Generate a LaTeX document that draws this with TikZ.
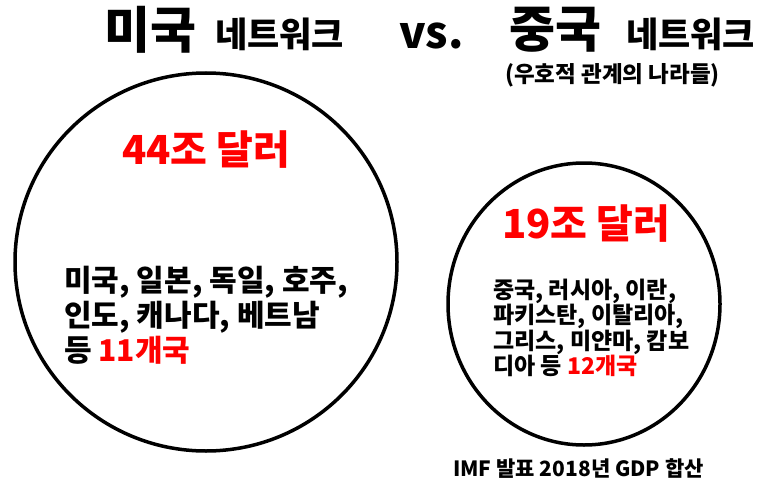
\documentclass[tikz,border=0pt]{standalone}
\usepackage{fontspec}
\setmainfont{Noto Sans CJK KR}
\definecolor{myred}{RGB}{255,0,0}
\tikzset{
  ring/.style={draw=black, line width=3.5pt},
  txt/.style={inner sep=0pt, text=black},
}
\begin{document}
\begin{tikzpicture}[x=1pt,y=-1pt]
\useasboundingbox[fill=white] (0,0) rectangle (760,484);
% circles
\draw[ring] (206,262) ellipse [x radius=191, y radius=189];
\draw[ring] (584,304) ellipse [x radius=136, y radius=141];
% titles
\node[txt, anchor=west, font=\fontsize{50}{54}\selectfont\bfseries] (t1) at (104,30) {미국};
\node[txt, anchor=west, font=\fontsize{35}{38}\selectfont\bfseries] (t2) at (215,34) {네트워크};
\node[txt, anchor=west, font=\fontsize{44}{48}\selectfont\bfseries] (vs) at (399,36) {vs.};
\node[txt, anchor=west, font=\fontsize{50}{54}\selectfont\bfseries] (t3) at (509,30) {중국};
\node[txt, anchor=west, font=\fontsize{35}{38}\selectfont\bfseries] (t4) at (626,34) {네트워크};
\node[txt, anchor=west, font=\fontsize{22.5}{26}\selectfont\bfseries] (sub) at (505,75) {(우호적 관계의 나라들)};
% big circle
\node[txt, text=myred, anchor=west, font=\fontsize{40}{44}\selectfont\bfseries] (usd) at (122,150) {44조 달러};
\node[txt, anchor=west, align=left, font=\fontsize{30}{35}\selectfont\bfseries] (usl) at (64,315)
  {미국, 일본, 독일, 호주,\\인도, 캐나다, 베트남\\등 {\color{myred}11개국}};
% small circle
\node[txt, text=myred, anchor=west, font=\fontsize{40}{44}\selectfont\bfseries] (cnd) at (502,224) {19조 달러};
\node[txt, anchor=west, align=left, font=\fontsize{23}{25.5}\selectfont\bfseries] (cnl) at (493,328)
  {중국, 러시아, 이란,\\파키스탄, 이탈리아,\\그리스, 미얀마, 캄보\\디아 등 {\color{myred}12개국}};
% footer
\node[txt, anchor=west, font=\fontsize{21}{24}\selectfont\bfseries] (src) at (453,469) {IMF 발표 2018년 GDP 합산};
\end{tikzpicture}
\end{document}
